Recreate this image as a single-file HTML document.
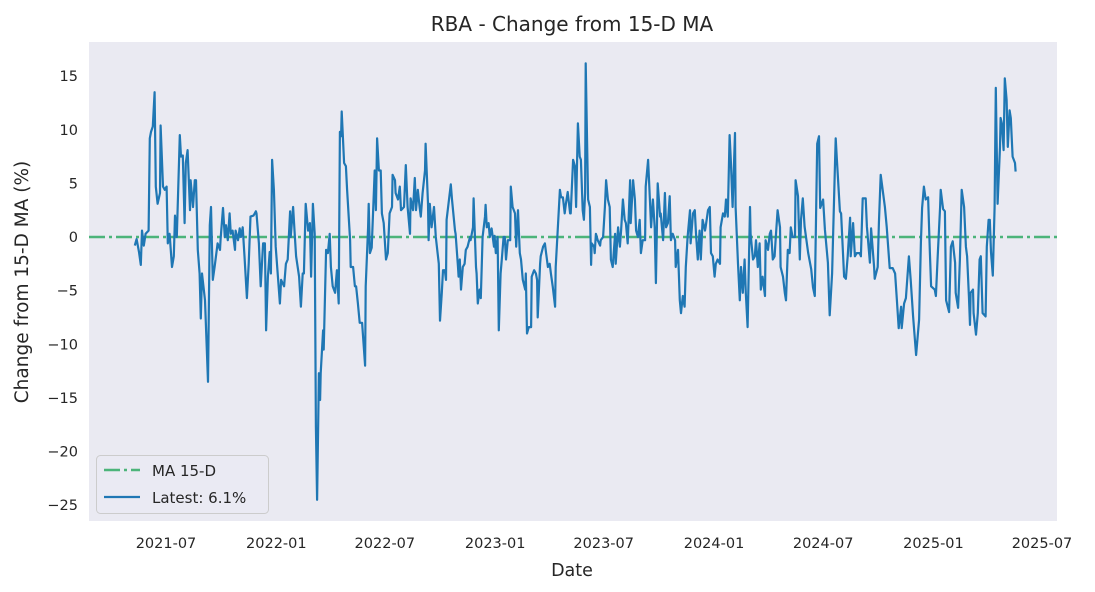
<!DOCTYPE html>
<html><head><meta charset="utf-8">
<style>
html,body{margin:0;padding:0;background:#fff;}
svg{display:block;font-family:"DejaVu Sans","Liberation Sans",sans-serif;}
</style></head>
<body>
<svg id="chart" width="1095" height="592" viewBox="0 0 1095 592" xmlns="http://www.w3.org/2000/svg">
<rect x="89" y="42" width="968" height="479" fill="#eaeaf2"/>
<text x="572" y="31" text-anchor="middle" font-size="20" fill="#262626">RBA - Change from 15-D MA</text>
<text x="572" y="576" text-anchor="middle" font-size="17.5" fill="#262626">Date</text>
<text transform="translate(28,282) rotate(-90)" text-anchor="middle" font-size="18.5" fill="#262626">Change from 15-D MA (%)</text>
<g id="yticks"></g>
<g id="xticks"></g>
<line id="maline" stroke="#4cb47a" stroke-width="2.5" stroke-dasharray="16,4,3,4"/>
<path id="series" fill="none" stroke="#1f77b4" stroke-width="2.2" stroke-linejoin="round"/>
<g>
<rect x="96.5" y="455.5" width="172" height="58" rx="4" fill="#eaeaf2" fill-opacity="0.8" stroke="#cccccc"/>
<line x1="104" y1="470" x2="140" y2="470" stroke="#4cb47a" stroke-width="2.5" stroke-dasharray="16,4,3,4"/>
<text x="152" y="476" font-size="15" fill="#262626">MA 15-D</text>
<line x1="104" y1="497" x2="140" y2="497" stroke="#1f77b4" stroke-width="2.2"/>
<text x="152" y="503" font-size="15" fill="#262626">Latest: 6.1%</text>
</g>
</svg>
<script>
const startDate = "2021-05-10";
const days = [0,3,7,10,12,15,18,23,25,27,30,33,35,38,42,43,47,50,53,55,58,62,65,67,70,75,77,80,83,85,88,92,93,97,100,102,105,108,110,112,117,122,125,127,130,133,138,142,143,147,150,152,155,158,160,163,167,168,172,175,177,180,183,187,190,193,198,202,203,207,210,214,217,219,222,225,227,229,232,235,242,244,249,252,255,259,260,264,267,269,274,277,280,282,285,289,292,294,297,300,302,304,307,309,310,314,315,319,322,325,327,330,334,337,340,342,344,345,349,352,354,359,360,364,367,369,372,375,379,384,385,389,390,392,395,400,402,404,407,410,412,415,419,422,425,429,430,434,435,439,442,444,449,452,455,459,460,464,467,469,472,475,477,480,484,485,489,490,492,495,499,502,505,507,509,512,514,517,519,520,524,527,529,534,535,539,540,542,544,547,550,552,555,559,560,564,565,569,570,572,575,577,580,584,585,587,590,592,595,599,600,602,605,607,610,612,615,617,619,622,626,627,630,634,636,639,642,644,647,651,652,654,657,661,662,666,669,671,672,676,677,681,684,686,689,692,694,697,701,702,706,709,711,714,717,719,722,726,727,731,734,736,739,742,744,747,749,751,752,756,759,761,762,766,767,769,772,776,777,781,784,786,789,792,794,797,801,802,806,809,811,814,817,819,822,826,827,831,834,836,839,842,844,847,851,852,856,859,861,864,867,869,872,876,877,881,884,886,889,892,894,897,901,902,906,909,911,914,917,919,922,926,927,931,934,936,939,942,944,947,951,952,956,959,961,964,967,969,972,976,977,981,984,986,989,992,994,997,1001,1002,1006,1009,1011,1014,1017,1019,1022,1026,1027,1031,1034,1036,1039,1042,1044,1047,1051,1052,1056,1059,1061,1064,1067,1069,1072,1076,1077,1081,1084,1086,1089,1092,1094,1097,1101,1102,1106,1109,1111,1114,1117,1123,1128,1131,1134,1138,1141,1143,1148,1151,1156,1159,1163,1168,1169,1171,1176,1178,1183,1186,1189,1193,1194,1198,1201,1204,1209,1211,1214,1219,1221,1226,1228,1233,1234,1239,1241,1244,1251,1254,1259,1264,1268,1271,1274,1278,1279,1283,1286,1291,1294,1298,1303,1308,1311,1313,1316,1319,1323,1326,1328,1334,1336,1339,1343,1344,1348,1351,1353,1358,1361,1364,1368,1369,1373,1376,1379,1383,1386,1388,1391,1393,1394,1398,1399,1403,1406,1409,1411,1414,1419,1421,1424,1426,1428,1431,1434,1436,1439,1443,1444,1446,1449,1451,1454,1456,1459,1461,1464,1468,1469];
const values = [-0.8,-0.2,-1.4,-2.6,0.6,-0.8,0.3,0.6,9.2,9.8,10.3,13.5,4.7,3.1,4.1,10.4,4.7,4.4,4.7,-0.6,0.3,-2.8,-1.8,2.0,0,9.5,7.5,7.6,1.3,6.9,8.1,2.5,5.3,2.8,5.3,5.3,-1.2,-3.4,-7.6,-3.4,-5.9,-13.5,1.1,2.8,-4.0,-2.8,-0.6,-1.2,-0.2,2.7,0,1.1,-0.3,2.2,0.3,0.6,-1.2,0.6,-0.3,0.8,0,0.9,-1.8,-5.7,-2.5,1.9,2.0,2.4,2.2,-0.6,-4.6,-0.6,-0.6,-8.7,-3.7,-1.4,-3.4,7.2,4.4,-0.9,-6.2,-4.0,-4.6,-2.5,-2.1,2.4,0,2.8,0,-1.8,-3.7,-6.5,-3.4,-3.4,3.1,0.6,1.3,-3.7,3.1,0.3,-17.7,-24.5,-12.7,-15.2,-12.7,-8.7,-10.5,-1.2,-1.5,0.3,-2.8,-4.6,-5.2,-3.1,-6.2,9.8,9.4,11.7,6.9,6.6,4.4,-0.3,-2.8,-2.8,-4.6,-4.6,-6.2,-8.0,-8.0,-12.0,-4.6,0.9,3.1,-1.5,-1.0,6.2,2.5,9.2,6.2,6.2,2.2,1.3,-2.1,-1.5,2.2,2.8,5.8,5.3,4.1,3.5,4.7,2.5,2.8,6.7,2.8,0.3,3.6,2.5,5.5,2.5,4.4,2.8,1.9,4.1,6.2,8.7,3.1,-0.3,3.1,0.9,2.8,0,-1.5,-2.5,-7.8,-5.2,-3.1,-3.1,-4.0,1.6,3.5,4.9,3.5,0.6,0.3,-2.8,-3.7,-2.1,-4.9,-2.8,-2.5,-1.2,-0.9,0,-0.3,0.9,3.6,-2.8,-3.4,-6.2,-4.9,-5.7,0,1.9,3.0,0.9,1.3,0,0.8,-0.9,0.1,-1.5,0,-8.7,-3.4,-2.1,0,0,-2.1,-0.3,-0.3,4.7,2.8,2.2,-0.9,2.5,-1.5,-2.1,-4.0,-4.9,-3.4,-9.0,-8.4,-8.4,-3.7,-3.1,-3.4,-4.0,-7.5,-2.5,-1.8,-0.9,-0.6,-1.5,-2.8,-2.5,-3.4,-4.6,-6.5,-2.8,1.3,4.4,3.7,3.7,2.2,3.1,4.2,2.2,2.2,7.2,6.6,2.8,10.6,7.5,7.2,2.5,1.6,4.1,16.2,3.5,2.8,-2.6,-0.6,-0.9,-1.5,0.3,-0.3,-0.8,-0.3,0,2.8,5.3,3.5,2.8,-2.1,-2.8,0.3,-2.5,0.9,-0.9,0.6,3.5,1.6,1.3,-0.6,5.3,1.3,5.3,3.5,0.6,0,1.6,-1.5,-0.3,-0.3,4.7,7.2,3.5,0.9,3.5,0.9,-4.3,5.0,1.9,2.2,-0.3,4.1,0.9,1.3,3.8,-0.3,0.3,-0.3,-2.8,-1.2,-5.9,-7.1,-5.5,-6.5,-2.8,0,2.5,-0.6,2.2,2.5,0.3,-2.1,0.6,-2.1,1.6,0.6,0.9,2.5,2.8,-1.5,-1.8,-3.7,-2.5,-2.1,-2.5,0.9,2.2,1.9,3.5,1.9,9.5,7.2,2.8,9.7,2.8,-2.5,-5.9,-2.8,-5.2,-2.1,-5.2,-8.4,2.8,0.3,-2.1,-1.8,-0.3,-2.8,-0.6,-4.9,-3.7,-5.5,-0.3,-1.2,0.3,0.6,-2.1,-1.8,0,2.5,0.9,-2.8,-3.7,-5.2,-5.9,-1.2,-1.5,0.9,0,0,5.3,3.8,-2.1,1.6,3.6,0.96,-1.5,-3,-4.7,-5.5,8.7,9.4,2.7,3.5,0.7,-2.4,-7.3,-3.4,7.2,9.2,7.2,2.4,2.2,-3.7,-3.9,-1.8,1.8,-1.8,1.3,-1.8,-1.5,-1.5,-1.8,3.6,3.6,0.96,-2.4,0.8,-2.8,-3.9,-2.8,1.3,5.8,2.8,0.96,-2.9,-2.9,-3.4,-5.9,-8.5,-6.5,-8.5,-6.2,-5.7,-1.8,-4.0,-7.4,-11,-7.7,-0.5,2.7,4.7,3.5,3.7,-1.5,-4.6,-4.9,-5.5,-1.8,2.8,4.4,2.6,2.4,-5.9,-7,-0.9,-0.4,-2.4,-5.2,-6.6,-2.1,4.4,2.8,-0.9,-1.8,-5.5,-8.2,-5.2,-4.9,-7.1,-9.1,-7.1,-2.1,-1.8,-7.1,-7.4,-0.9,1.6,1.6,-1.4,-3.6,2.8,13.9,3.1,8.4,11.1,10.6,8.1,14.8,12.8,8.4,11.8,11.1,7.5,6.9,6.1];
const yTickValues = [15,10,5,0,-5,-10,-15,-20,-25];
const xTickDates = ["2021-07-01","2022-01-01","2022-07-01","2023-01-01","2023-07-01","2024-01-01","2024-07-01","2025-01-01","2025-07-01"];
const xTickLabels = ["2021-07","2022-01","2022-07","2023-01","2023-07","2024-01","2024-07","2025-01","2025-07"];

const NS="http://www.w3.org/2000/svg";
const DAY=86400000;
const ref=Date.UTC(2021,6,1);
function dateMs(s){const p=s.split("-");return Date.UTC(+p[0],+p[1]-1,+p[2]);}
function xScale(ms){return 166+(ms-ref)/DAY*(876/1461);}
function yScale(v){return 237-v*10.725;}
const st=dateMs(startDate);

const yg=document.getElementById("yticks");
yTickValues.forEach(function(v){
  const t=document.createElementNS(NS,"text");
  
  
  t.setAttribute("x",78);t.setAttribute("y",yScale(v)+5);
  t.setAttribute("text-anchor","end");t.setAttribute("font-size","14.5");t.setAttribute("fill","#262626");
  t.textContent=(v<0?"\u2212":"")+Math.abs(v);
  yg.appendChild(t);
});
const xg=document.getElementById("xticks");
xTickDates.forEach(function(d,i){
  const t=document.createElementNS(NS,"text");
  
  
  t.setAttribute("x",xScale(dateMs(d)));t.setAttribute("y",548);
  t.setAttribute("text-anchor","middle");t.setAttribute("font-size","14.5");t.setAttribute("fill","#262626");
  t.textContent=xTickLabels[i];
  xg.appendChild(t);
});
const ma=document.getElementById("maline");
ma.setAttribute("x1",89);ma.setAttribute("x2",1057);
ma.setAttribute("y1",yScale(0));ma.setAttribute("y2",yScale(0));
let d="";
days.forEach(function(dd,i){
  const x=xScale(st+dd*DAY),y=yScale(values[i]);
  d+=(i?"L":"M")+x.toFixed(1)+","+y.toFixed(1);
});
document.getElementById("series").setAttribute("d",d);
</script>
</body></html>
